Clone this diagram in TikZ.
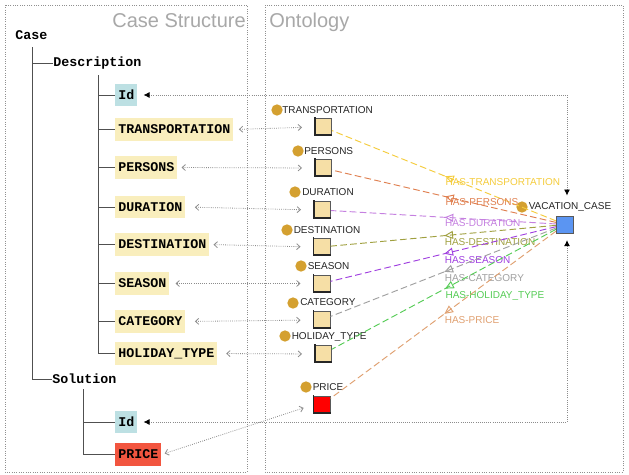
\documentclass[tikz,border=0pt]{standalone}
\usepackage{fontspec}
\setmainfont{Liberation Sans}
\setsansfont{Liberation Sans}
\setmonofont{Liberation Mono}
\usetikzlibrary{arrows.meta,decorations.markings,calc}
\definecolor{boxyellow}{HTML}{F9EEBD}
\definecolor{boxblue}{HTML}{BDE0E3}
\definecolor{boxred}{HTML}{F2553F}
\definecolor{sqwheat}{HTML}{F6DFA6}
\definecolor{sqblue}{HTML}{5B95F2}
\definecolor{dotgold}{HTML}{D4A030}
\definecolor{framegray}{HTML}{909090}
\definecolor{titlegray}{HTML}{A8A8A8}
\definecolor{treegray}{HTML}{505050}
\definecolor{linkgray}{HTML}{8C8C8C}
\definecolor{cTransp}{HTML}{F5CC3C}
\definecolor{cPersons}{HTML}{E08050}
\definecolor{cDuration}{HTML}{C580E0}
\definecolor{cDest}{HTML}{A0A040}
\definecolor{cSeason}{HTML}{A040E0}
\definecolor{cCategory}{HTML}{A0A0A0}
\definecolor{cHoliday}{HTML}{55CC55}
\definecolor{cPrice}{HTML}{E0A070}
\begin{document}
\begin{tikzpicture}[x=0.75pt,y=-0.75pt,
  frame/.style={draw=framegray, densely dotted, line width=0.75pt},
  title/.style={text=titlegray, font=\fontsize{15}{18}\selectfont, inner sep=0pt},
  treetext/.style={font=\fontsize{10}{12}\selectfont\ttfamily\bfseries, inner sep=0pt, anchor=west},
  casebox/.style={font=\fontsize{10}{12}\selectfont\ttfamily\bfseries, inner xsep=2.25pt, inner ysep=0pt,
    minimum height=17pt, text height=7pt, text depth=1pt, anchor=west, fill=boxyellow},
  idbox/.style={casebox, fill=boxblue},
  pricebox/.style={casebox, fill=boxred},
  treeline/.style={draw=treegray, line width=0.75pt},
  osq/.style={draw=black!65, fill=sqwheat, minimum size=12.75pt, inner sep=0pt, line width=0.75pt},
  dot/.style={circle, fill=dotgold, minimum size=8.5pt, inner sep=0pt},
  olabel/.style={font=\fontsize{7.5}{9}\selectfont, inner sep=0pt, anchor=west, text=black!85},
  link/.style={draw=linkgray, densely dotted, line width=0.6pt,
    {Straight Barb[length=2.5pt,width=4.5pt]}-{Straight Barb[length=2.5pt,width=4.5pt]}},
  idlink/.style={draw=linkgray, densely dotted, line width=0.6pt,
    {Latex[length=4.5pt,width=4.5pt,black]}-{Latex[length=4.5pt,width=4.5pt,black]}},
  rel/.style={draw=#1, dash pattern=on 5pt off 2.5pt, line width=0.7pt, postaction={decorate},
    decoration={markings, mark=at position 0.495 with {\arrow[#1]{Triangle[open,length=6.5pt,width=6pt,line width=0.7pt]}}}},
  rellabel/.style={pos=0.495, anchor=north west, inner sep=0pt, yshift=-1.5pt, font=\fontsize{7.5}{9}\selectfont, text=#1}
]
\useasboundingbox (0,0) rectangle (629,475);
\fill[white] (0,0) rectangle (629,475);
% frames
\draw[frame] (5,5) rectangle (247,472);
\draw[frame] (265,5) rectangle (623,472);
\node[title, anchor=base east] (tcs) at (246,27) {Case Structure};
\node[title, anchor=base west] (tont) at (269,27) {Ontology};

% case structure tree
\node[treetext] (case) at (15,35) {Case};
\node[treetext] (desc) at (53,63) {Description};
\node[treetext] (sol) at (52,379) {Solution};
\node[idbox] (id1) at (115,95) {Id};
\node[casebox] (transp) at (115,129.5) {TRANSPORTATION};
\node[casebox] (persons) at (115,167.5) {PERSONS};
\node[casebox] (duration) at (115,207) {DURATION};
\node[casebox] (dest) at (115,244.5) {DESTINATION};
\node[casebox] (season) at (115,283.5) {SEASON};
\node[casebox] (category) at (115,321.5) {CATEGORY};
\node[casebox] (holiday) at (115,353.5) {HOLIDAY\_TYPE};
\node[idbox] (id2) at (115,422) {Id};
\node[pricebox] (price) at (115,454.5) {PRICE};

\coordinate (caseroot) at (32,47);
\coordinate (descroot) at (98,75);
\coordinate (solroot) at (83,389);
\draw[treeline] (caseroot) |- (desc.west);
\draw[treeline] (caseroot) |- (sol.west);
\foreach \n in {id1,transp,persons,duration,dest,season,category,holiday}
  \draw[treeline] (descroot) |- (\n.west);
\foreach \n in {id2,price}
  \draw[treeline] (solroot) |- (\n.west);

% ontology squares
\node[osq] (s-transp) at (323,127) {};
\node[osq] (s-persons) at (323,168) {};
\node[osq] (s-duration) at (322,210) {};
\node[osq] (s-dest) at (321.5,247) {};
\node[osq] (s-season) at (321.5,283.5) {};
\node[osq] (s-category) at (321.5,320) {};
\node[osq] (s-holiday) at (323,354) {};
\node[osq, fill=red] (s-price) at (321.5,405) {};
\node[osq, fill=sqblue] (vc) at (565,224.5) {};
\foreach \n in {s-transp,s-persons,s-duration,s-dest,s-season,s-category,s-holiday,s-price}
  \draw[black!85, line width=1.2pt] ([xshift=0.6pt,yshift=0.4pt]\n.north west) -- ([xshift=0.6pt,yshift=0.6pt]\n.south west) -- ([yshift=0.6pt]\n.south east);

% ontology labels
\node[dot] (d-transp) at (277,110) {};
\node[olabel] (l-transp) at (282,110) {TRANSPORTATION};
\node[dot] (d-persons) at (298,151) {};
\node[olabel] (l-persons) at (304,151) {PERSONS};
\node[dot] (d-duration) at (295,192) {};
\node[olabel] (l-duration) at (302,192) {DURATION};
\node[dot] (d-dest) at (287,230) {};
\node[olabel] (l-dest) at (293.5,230) {DESTINATION};
\node[dot] (d-season) at (301,266) {};
\node[olabel] (l-season) at (307.5,266) {SEASON};
\node[dot] (d-category) at (293,303) {};
\node[olabel] (l-category) at (300,302.5) {CATEGORY};
\node[dot] (d-holiday) at (285,336) {};
\node[olabel] (l-holiday) at (291.5,336.5) {HOLIDAY\_TYPE};
\node[dot] (d-price) at (306,387) {};
\node[olabel] (l-price) at (312.5,387) {PRICE};
\node[dot] (d-vc) at (522,207) {};
\node[olabel] (l-vc) at (528.5,207) {VACATION\_CASE};

% relations
\draw[rel=cTransp] (vc) -- (s-transp) node[rellabel=cTransp] {HAS-TRANSPORTATION};
\draw[rel=cPersons] (vc) -- (s-persons) node[rellabel=cPersons] {HAS-PERSONS};
\draw[rel=cDuration] (vc) -- (s-duration) node[rellabel=cDuration] {HAS-DURATION};
\draw[rel=cDest] (vc) -- (s-dest) node[rellabel=cDest] {HAS-DESTINATION};
\draw[rel=cSeason] (vc) -- (s-season) node[rellabel=cSeason] {HAS-SEASON};
\draw[rel=cCategory] (vc) -- (s-category) node[rellabel=cCategory] {HAS-CATEGORY};
\draw[rel=cHoliday] (vc) -- (s-holiday) node[rellabel=cHoliday] {HAS-HOLIDAY\_TYPE};
\draw[rel=cPrice] (vc) -- (s-price) node[rellabel=cPrice] {HAS-PRICE};
\node[osq, fill=sqblue] at (vc) {};

% links between case structure and ontology
\draw[link, shorten <=4pt, shorten >=9pt] (transp.east) -- (s-transp.west);
\draw[link, shorten <=3pt, shorten >=9pt] (persons.east) -- (s-persons.west);
\draw[link, shorten <=7pt, shorten >=9pt] (duration.east) -- (s-duration.west);
\draw[link, shorten <=3pt, shorten >=9pt] (dest.east) -- (s-dest.west);
\draw[link, shorten <=4.5pt, shorten >=9pt] (season.east) -- (s-season.west);
\draw[link, shorten <=7pt, shorten >=9pt] (category.east) -- (s-category.west);
\draw[link, shorten <=6.5pt, shorten >=9pt] (holiday.east) -- (s-holiday.west);
\draw[link, shorten <=2.5pt, shorten >=7pt] (price.east) -- (s-price.west);

\coordinate (c1) at (567,95);
\coordinate (c2) at (567,422);
\draw[idlink, shorten <=4.5pt, shorten >=15pt] (id1.east) -- (c1) -- (c1 |- vc.north);
\draw[idlink, shorten <=4.5pt, shorten >=5pt] (id2.east) -- (c2) -- (c2 |- vc.south);
\end{tikzpicture}
\end{document}
